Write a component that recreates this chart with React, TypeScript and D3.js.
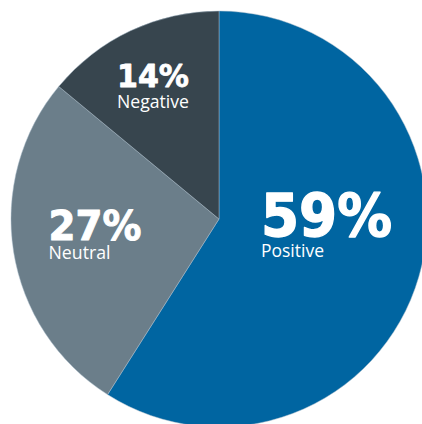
import React from "react";
import * as d3 from "d3";

const categories = ["Positive", "Neutral", "Negative"];
const values = [59, 27, 14];
const colors = ["#0065a1", "#6b7e8a", "#37454e"];

// layout: label anchor (left x, value baseline, name baseline), font sizes, widths
const labelLayout = [
  { x: 261, yVal: 236, yName: 257, valSize: 58, valLen: 131, nameLen: 63, sw: 1.4 },
  { x: 48.5, yVal: 240, yName: 259, valSize: 41, valLen: 93, nameLen: 62, sw: 1.0 },
  { x: 117, yVal: 87, yName: 108, valSize: 32, valLen: 72, nameLen: 72, sw: 0.8 },
];

const W = 422;
const H = 424;
const cx = 219;
const cy = 219;
const R = 208;

export default function App() {
  const total = d3.sum(values);
  const pie = d3
    .pie<number>()
    .sort(null)
    .startAngle(0)
    .endAngle(2 * Math.PI)
    .value((d) => d);
  const arcs = pie(values);
  const arc = d3.arc<d3.PieArcDatum<number>>().innerRadius(0).outerRadius(R);

  return (
    <svg
      width={W}
      height={H}
      style={{ position: "absolute", left: 0, top: 0, background: "#fff" }}
    >
      <g transform={`translate(${cx},${cy})`}>
        {arcs.map((a, i) => (
          <path
            key={categories[i]}
            d={arc(a) || ""}
            fill={colors[i]}
            stroke="#a9bccb"
            strokeWidth={0.8}
            strokeOpacity={0.6}
          />
        ))}
      </g>
      {arcs.map((a, i) => {
        const L = labelLayout[i];
        const pct = Math.round((values[i] / total) * 100);
        return (
          <g key={"lab" + i} fill="#fff">
            <text
              x={L.x}
              y={L.yVal}
              fontFamily="DejaVu Sans"
              fontWeight="bold"
              fontSize={L.valSize}
              textLength={L.valLen}
              lengthAdjust="spacingAndGlyphs"
              stroke="#fff"
              strokeWidth={L.sw}
              strokeLinejoin="round"
            >
              {pct}%
            </text>
            <text
              x={L.x}
              y={L.yName}
              fontFamily="Open Sans"
              fontSize={18}
              textLength={L.nameLen}
              lengthAdjust="spacingAndGlyphs"
            >
              {categories[i]}
            </text>
          </g>
        );
      })}
    </svg>
  );
}
